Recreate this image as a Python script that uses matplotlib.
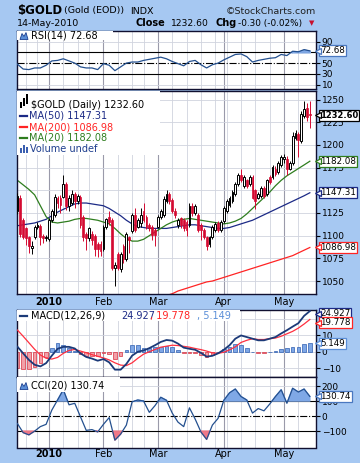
import datetime as dt
import numpy as np
import matplotlib
matplotlib.use('Agg')
from matplotlib import pyplot as plt, transforms
from matplotlib.patches import Rectangle, Polygon

# trading days on the chart (US holidays skipped)
month_days = [
    (2009, 12, [16, 17, 18, 21, 22, 23, 24, 28, 29, 30, 31]),
    (2010, 1, [4, 5, 6, 7, 8, 11, 12, 13, 14, 15, 19, 20, 21, 22, 25, 26, 27, 28, 29]),
    (2010, 2, [1, 2, 3, 4, 5, 8, 9, 10, 11, 12, 16, 17, 18, 19, 22, 23, 24, 25, 26]),
    (2010, 3, [1, 2, 3, 4, 5, 8, 9, 10, 11, 12, 15, 16, 17, 18, 19, 22, 23, 24, 25, 26, 29, 30, 31]),
    (2010, 4, [1, 5, 6, 7, 8, 9, 12, 13, 14, 15, 16, 19, 20, 21, 22, 23, 26, 27, 28, 29, 30]),
    (2010, 5, [3, 4, 5, 6, 7, 10, 11, 12, 13, 14]),
]
month_labels = ['2010', 'Feb', 'Mar', 'Apr', 'May']

opens = [1127, 1142, 1117, 1108, 1098, 1086, 1098, 1110, 1111, 1100, 1097,
         1096, 1117, 1123, 1142, 1142, 1143, 1157, 1133, 1136, 1146, 1138, 1143, 1121, 1102, 1097, 1102, 1100, 1091, 1091,
         1085, 1110, 1121, 1117, 1064, 1080, 1063, 1089, 1074, 1098, 1105, 1123, 1110, 1114, 1127, 1121, 1112, 1110, 1106,
         1110, 1121, 1123, 1138, 1146, 1139, 1127, 1112, 1119, 1117, 1115, 1112, 1133, 1125, 1123, 1112, 1106, 1098, 1091, 1098, 1106, 1114, 1106,
         1116, 1127, 1134, 1138, 1146, 1157, 1167, 1155, 1161, 1157, 1165, 1150, 1142, 1144, 1153, 1146, 1165, 1165, 1174, 1170, 1178,
         1185, 1185, 1174, 1180, 1208, 1212, 1204, 1232, 1241, 1234]
highs = [1147, 1145, 1119, 1110, 1100, 1094, 1112, 1115, 1113, 1102, 1101,
         1119, 1129, 1146, 1144, 1145, 1167, 1159, 1145, 1150, 1148, 1146, 1145, 1123, 1104, 1110, 1105, 1102, 1093, 1094,
         1112, 1120, 1127, 1119, 1071, 1082, 1082, 1091, 1104, 1100, 1125, 1130, 1119, 1130, 1136, 1123, 1114, 1112, 1108,
         1123, 1129, 1144, 1150, 1148, 1141, 1130, 1120, 1121, 1119, 1117, 1136, 1136, 1135, 1125, 1114, 1108, 1100, 1100, 1112, 1115, 1116, 1117,
         1133, 1140, 1144, 1150, 1159, 1169, 1174, 1167, 1163, 1167, 1167, 1152, 1148, 1155, 1155, 1163, 1167, 1178, 1177, 1182, 1189,
         1190, 1188, 1182, 1214, 1217, 1214, 1237, 1249, 1246, 1249]
lows = [1124, 1099, 1096, 1090, 1081, 1080, 1096, 1107, 1090, 1092, 1094,
        1094, 1115, 1121, 1130, 1125, 1141, 1128, 1127, 1134, 1130, 1135, 1108, 1094, 1084, 1094, 1090, 1078, 1076, 1078,
        1083, 1107, 1112, 1062, 1044, 1062, 1060, 1070, 1072, 1081, 1103, 1104, 1108, 1110, 1115, 1107, 1105, 1095, 1089,
        1108, 1118, 1121, 1136, 1135, 1125, 1120, 1108, 1108, 1105, 1100, 1110, 1122, 1123, 1104, 1095, 1096, 1084, 1087, 1096, 1104, 1104, 1104,
        1114, 1125, 1132, 1136, 1144, 1155, 1159, 1153, 1153, 1155, 1140, 1129, 1140, 1142, 1142, 1144, 1157, 1163, 1166, 1168, 1176,
        1180, 1167, 1172, 1178, 1205, 1187, 1202, 1230, 1226, 1219]
closes = [1144, 1102, 1099, 1097, 1089, 1089, 1110, 1112, 1098, 1097, 1099,
          1117, 1127, 1143, 1136, 1134, 1157, 1133, 1142, 1146, 1138, 1144, 1112, 1098, 1097, 1108, 1095, 1085, 1085, 1083,
          1110, 1118, 1115, 1064, 1068, 1064, 1080, 1074, 1102, 1095, 1123, 1106, 1117, 1123, 1117, 1110, 1108, 1101, 1101,
          1121, 1127, 1140, 1146, 1138, 1127, 1123, 1117, 1112, 1108, 1106, 1133, 1125, 1133, 1106, 1106, 1098, 1089, 1098, 1110, 1113, 1106, 1115,
          1131, 1138, 1142, 1148, 1157, 1167, 1161, 1165, 1155, 1165, 1142, 1138, 1146, 1153, 1144, 1161, 1159, 1176, 1168, 1180, 1187,
          1187, 1174, 1180, 1210, 1213, 1206, 1234, 1240, 1231, 1232.6]

# indicator lines, read every second trading day
ma20 = [1161, 1156, 1151, 1145, 1133, 1121, 1115, 1114, 1115, 1116, 1118, 1119, 1119, 1118, 1117, 1115, 1113, 1108,
        1102, 1097, 1094, 1094, 1096, 1100, 1104, 1108, 1112, 1115, 1117, 1118, 1119, 1118, 1117, 1116, 1115, 1114,
        1113, 1114, 1116, 1119, 1124, 1130, 1136, 1142, 1148, 1155, 1161, 1166, 1170, 1174, 1178, 1182.08]
ma50 = [1111, 1112, 1113, 1114, 1116, 1118, 1122, 1126, 1129, 1132, 1135, 1136, 1136, 1135, 1134, 1133, 1130, 1126,
        1122, 1117, 1113, 1110, 1109, 1108, 1108, 1108, 1108, 1109, 1110, 1111, 1112, 1112, 1111, 1110, 1109, 1108,
        1108, 1109, 1111, 1113, 1115, 1117, 1120, 1123, 1126, 1129, 1132, 1135, 1138, 1141, 1144, 1147.31]
ma200 = [988, 990, 992, 994, 996, 997, 999, 1001, 1003, 1005, 1006, 1008, 1010, 1012, 1013, 1015, 1017, 1019,
         1020, 1022, 1024, 1025, 1027, 1029, 1030, 1032, 1034, 1036, 1039, 1041, 1043, 1045, 1047, 1049, 1050, 1052,
         1054, 1056, 1058, 1060, 1062, 1064, 1066, 1068, 1070, 1072, 1074, 1076, 1078, 1081, 1084, 1086.98]
rsi = [48, 39, 38, 41, 41, 46, 54, 55, 58, 54, 50, 43, 41, 41, 38, 49, 46, 36, 43, 50, 52, 52, 55, 57, 59, 61,
       58, 53, 49, 45, 53, 55, 47, 41, 47, 50, 56, 61, 66, 67, 62, 52, 55, 57, 59, 60, 66, 64, 72, 71, 75, 72.68]
macd = [3.1, -1, -5, -8, -9, -7, -2.4, 1.8, 3, 3, 2, -1, -3.2, -4.2, -5.5, -4.5, -6.5, -11, -11, -7.5, -2.4, 0,
        0.8, 2.2, 4, 6, 7.2, 6.8, 5, 2.5, 1.8, 1.2, -0.7, -3, -2.5, -1, 1.2, 4, 8, 10, 9, 8, 7, 7, 8, 9, 11.2,
        13.2, 15.4, 17.5, 22, 24.927]
signal = [13.3, 9.5, 5.5, 1.5, -2, -4, -4.5, -3.5, -1, 0.8, 1.4, 0.4, -0.6, -1.8, -2.8, -3.8, -5, -6.8, -8.2,
          -8.5, -6.8, -4, -1.5, 0, 1.4, 2.8, 3.4, 4, 3.8, 3.3, 2.8, 2, 1.3, 0.4, -0.7, -1, -0.3, 1.2, 3, 5.7, 7,
          8, 7.5, 7.5, 8, 8.4, 9.5, 11, 12.5, 14.5, 17, 19.778]
cci = [-50, -110, -125, -100, -70, -55, 40, 107, 175, 75, 85, -5, -95, -90, -105, -55, -10, -160, -120, -60, 95,
       107, 100, 25, 70, 125, 105, 20, -40, -70, 55, -20, -105, -155, -60, -15, 105, 155, 180, 130, 107, 20, 50,
       35, 80, 130, 175, 85, 185, 160, 180, 130.74]

W, H = 360, 463
bg = '#a6c8f2'
navy = '#1c2a86'
red_ma = '#ff2424'
green_ma = '#2e7d1e'
candle_red = '#d40a32'
grid_c = '#d0d3de'

dates = [dt.date(y, m, d) for y, m, days in month_days for d in days]
n = len(dates)
x = np.arange(n)
x2 = np.arange(0, n, 2)
o, hi, lo, c = map(np.array, (opens, highs, lows, closes))

month_idx = [i for i in range(1, n) if dates[i].month != dates[i - 1].month]
week_idx = [i for i in range(1, n) if dates[i].isocalendar()[1] != dates[i - 1].isocalendar()[1]]

fig = plt.figure(figsize=(W / 100, H / 100), dpi=100)
fig.patch.set_facecolor(bg)


def px(xp, yp):
    return xp / W, 1 - yp / H


def box(top, bottom):
    return [17 / W, 1 - bottom / H, 299 / W, (bottom - top) / H]


def style(ax, yticks, ylim, grid_at=()):
    ax.set_facecolor('white')
    ax.set_xlim(-0.15, 104.15)
    ax.set_ylim(*ylim)
    for s in ax.spines.values():
        s.set_color('#101030')
        s.set_linewidth(1.0)
    ax.yaxis.tick_right()
    ax.set_yticks(yticks)
    ax.tick_params(axis='y', direction='out', length=3, width=0.8, labelsize=6.5, pad=1)
    ax.tick_params(axis='x', length=0)
    ax.set_xticks([])
    for i in week_idx:
        ax.axvline(i, color=grid_c, lw=0.6, zorder=0)
    for i in month_idx:
        ax.axvline(i, color='#9a9aaa', lw=0.8, zorder=0)
    for v in grid_at:
        ax.axhline(v, color=grid_c, lw=0.6, zorder=0)


def month_ticks(ax, pad):
    ax.set_xticks(month_idx, month_labels)
    ax.tick_params(axis='x', labelsize=7, pad=pad)
    ax.get_xticklabels()[0].set_fontweight('bold')


def tag(ax, y, text, ec, bold=False):
    tr = transforms.blended_transform_factory(ax.transAxes, ax.transData)
    ax.annotate(text, xy=(1, y), xycoords=tr, xytext=(3.0, 0), textcoords='offset points',
                ha='left', va='center', fontsize=6.0 if bold else 6.3,
                fontweight='bold' if bold else 'normal',
                bbox=dict(boxstyle='square,pad=0.1', fc='white', ec=ec, lw=0.9),
                annotation_clip=False, zorder=10)
    ax.plot([1 + 1.8 / 299], [y], marker='<', ms=4, mfc='white', mec=ec, mew=0.9,
            transform=tr, clip_on=False, zorder=11)


def mountain(x0, y0, col='#5b8fd8'):
    pts = [(x0, y0 + 4), (x0 + 2, y0 - 2), (x0 + 4, y0 + 1), (x0 + 6, y0 - 3), (x0 + 8, y0 + 4)]
    fig.patches.append(Polygon([px(a, b) for a, b in pts], closed=True, fc=col, ec='#1c3f8f',
                               lw=0.6, transform=fig.transFigure, figure=fig))


def white_box(ax, top, x1, y1):
    # white legend backing, from the panel's top-left corner to (x1, y1) in pixels
    l, b, w, h = ax.get_position().bounds
    ph = h * H
    ax.add_patch(Rectangle((0, 1 - (y1 - top) / ph), (x1 - 17) / 299, (y1 - top) / ph,
                           transform=ax.transAxes, fc='white', ec='none', zorder=5))


# header
fig.text(*px(17, 10.5), '$GOLD', fontsize=8.5, fontweight='bold', va='center')
fig.text(*px(64, 11), '(Gold (EOD))', fontsize=6.8, va='center')
fig.text(*px(130, 11), 'INDX', fontsize=6.8, va='center')
fig.text(*px(316, 11), '\u00a9StockCharts.com', fontsize=6.8, va='center', ha='right', color='#202020')
fig.text(*px(17, 23.5), '14-May-2010', fontsize=6.8, va='center')
fig.text(*px(135, 23.5), 'Close', fontsize=7, fontweight='bold', va='center')
fig.text(*px(171, 23.5), '1232.60', fontsize=6.6, va='center')
fig.text(*px(215, 23.5), 'Chg', fontsize=7, fontweight='bold', va='center')
fig.text(*px(238, 23.5), '-0.30 (-0.02%)', fontsize=6.4, va='center')
fig.text(*px(312, 23.5), '\u25bc', fontsize=5, va='center', ha='center', color='#c8102e')

# RSI panel
ax_rsi = fig.add_axes(box(31, 89))
style(ax_rsi, [10, 30, 50, 90], (2, 109.5), grid_at=(10, 90))
ax_rsi.axhline(70, color='black', lw=0.8, zorder=1)
ax_rsi.axhline(30, color='black', lw=0.8, zorder=1)
ax_rsi.axhline(50, color='black', lw=0.8, ls='-.', zorder=1)
rsi_a = np.array(rsi)
ax_rsi.fill_between(x2, rsi_a, 70, where=rsi_a > 70, interpolate=True, color='#7fa8e6', zorder=2)
ax_rsi.plot(x2, rsi_a, color='#24508f', lw=0.9, zorder=3)
white_box(ax_rsi, 31, 113, 40)
mountain(20, 35.5)
fig.text(*px(31, 36), 'RSI(14) 72.68', fontsize=7, va='center')
tag(ax_rsi, 72.68, '72.68', '#4a78c0')

# price panel
ax_p = fig.add_axes(box(91, 294))
style(ax_p, [1050, 1075, 1100, 1125, 1175, 1200, 1225, 1250], (1035.7, 1259.5),
      grid_at=np.arange(1050, 1251, 25))
up = c >= o
ax_p.vlines(x[up], lo[up], hi[up], color='black', lw=0.7, zorder=3)
ax_p.vlines(x[~up], lo[~up], hi[~up], color=candle_red, lw=0.7, zorder=3)
ax_p.bar(x[up], (c - o)[up], bottom=o[up], width=0.62, fc='white', ec='black', lw=0.7, zorder=4)
ax_p.bar(x[~up], (o - c)[~up], bottom=c[~up], width=0.62, fc=candle_red, ec=candle_red, lw=0.5, zorder=4)
ax_p.plot(x2, ma50, color=navy, lw=0.9, zorder=2)
ax_p.plot(x2, ma200, color=red_ma, lw=0.9, zorder=2)
ax_p.plot(x2, ma20, color=green_ma, lw=0.9, zorder=2)
month_ticks(ax_p, 2)
white_box(ax_p, 91, 160, 155)
for lab, col, yy in [('MA(50) 1147.31', navy, 116), ('MA(200) 1086.98', red_ma, 127),
                     ('MA(20) 1182.08', green_ma, 138)]:
    fig.lines.append(plt.Line2D([20 / W, 27 / W], [1 - yy / H] * 2, color=col, lw=1.6, transform=fig.transFigure))
    fig.text(*px(29, yy), lab, fontsize=7, va='center', color=col)
fig.text(*px(31, 105), '$GOLD (Daily) 1232.60', fontsize=7, va='center')
for k in range(3):
    fig.patches.append(Rectangle(px(20 + 3 * k, 108 - 2 * k), 1.6 / W, (6 + 2 * k) / H, fc='black',
                                 transform=fig.transFigure, figure=fig))
fig.text(*px(30, 149), 'Volume undef', fontsize=7, va='center', color='#1f3f8f')
for k, hh in enumerate([5, 8, 6]):
    fig.patches.append(Rectangle(px(20 + 3 * k, 152.5), 2 / W, hh / H, fc='#3b5fb0',
                                 transform=fig.transFigure, figure=fig))
tag(ax_p, 1232.6, '1232.60', 'black', bold=True)
tag(ax_p, 1182.08, '1182.08', green_ma)
tag(ax_p, 1147.31, '1147.31', navy)
tag(ax_p, 1086.98, '1086.98', red_ma)

# MACD panel
ax_m = fig.add_axes(box(310, 377))
style(ax_m, [-10, 0, 10], (-15.5, 25.6), grid_at=(-10, 0, 10, 20))
hist = np.array(macd) - np.array(signal)
ax_m.bar(x2, hist, width=1.3, color=np.where(hist >= 0, '#7ea7e6', '#f2a0a8'),
         edgecolor=np.where(hist >= 0, '#2f5fb0', '#d83040'), lw=0.5, zorder=2)
ax_m.plot(x2, signal, color='#ff3040', lw=0.9, zorder=3)
ax_m.plot(x2, macd, color='#1c3a78', lw=1.3, zorder=4)
white_box(ax_m, 310, 240, 321)
fig.lines.append(plt.Line2D([20 / W, 27 / W], [1 - 315.7 / H] * 2, color='#1c3a78', lw=1.6, transform=fig.transFigure))
fig.text(*px(31, 315.7), 'MACD(12,26,9)', fontsize=7, va='center')
fig.text(*px(121, 315.7), '24.927', fontsize=7, va='center', color=navy)
fig.text(*px(150, 315.7), ', 19.778', fontsize=7, va='center', color=red_ma)
fig.text(*px(197, 315.7), ', 5.149', fontsize=7, va='center', color='#5b8fd8')
tag(ax_m, 23.4, '24.927', navy)
tag(ax_m, 17.9, '19.778', red_ma)
tag(ax_m, 5.149, '5.149', '#5b8fd8')

# CCI panel
ax_c = fig.add_axes(box(377, 447.5))
style(ax_c, [-100, 0, 100, 200], (-209, 260), grid_at=(200,))
ax_c.axhline(100, color='black', lw=0.8, zorder=1)
ax_c.axhline(-100, color='black', lw=0.8, zorder=1)
ax_c.axhline(0, color='black', lw=0.8, ls='-.', zorder=1)
cci_a = np.array(cci)
ax_c.fill_between(x2, cci_a, 100, where=cci_a > 100, interpolate=True, color='#7fa8e6', zorder=2)
ax_c.fill_between(x2, cci_a, -100, where=cci_a < -100, interpolate=True, color='#f07888', zorder=2)
ax_c.plot(x2, cci_a, color='#24508f', lw=0.9, zorder=3)
month_ticks(ax_c, 1)
white_box(ax_c, 377, 120, 392)
mountain(20, 385.5)
fig.text(*px(31, 386), 'CCI(20) 130.74', fontsize=7, va='center')
tag(ax_c, 130.74, '130.74', '#4a78c0')

fig.savefig('out.png', dpi=100, facecolor=bg)
